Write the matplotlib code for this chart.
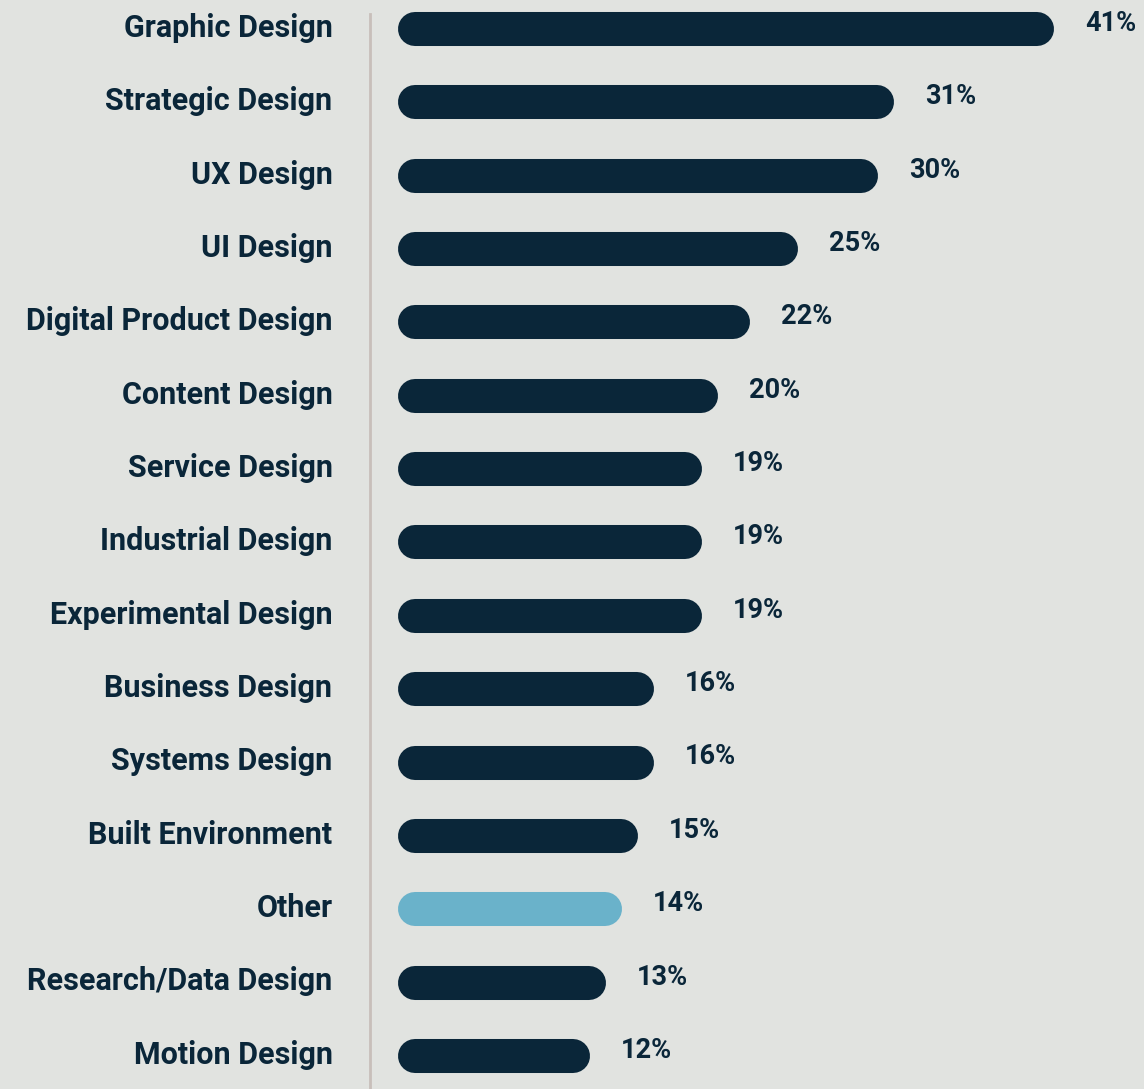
import matplotlib
matplotlib.use("Agg")
import matplotlib.pyplot as plt
from matplotlib.transforms import ScaledTranslation

categories = ["Graphic Design", "Strategic Design", "UX Design", "UI Design",
              "Digital Product Design", "Content Design", "Service Design",
              "Industrial Design", "Experimental Design", "Business Design",
              "Systems Design", "Built Environment", "Other",
              "Research/Data Design", "Motion Design"]
values = [41, 31, 30, 25, 22, 20, 19, 19, 19, 16, 16, 15, 14, 13, 12]
highlight = ["Other"]

BG = "#E1E3E0"
NAVY = "#0A2639"
LIGHT = "#6AB2CA"
SPINE = "#C8BFBA"

W, H, DPI = 11.44, 10.89, 100
fig = plt.figure(figsize=(W, H), dpi=DPI, facecolor=BG)
ax_left = 370 / 1144
ax_top = 14 / 1089
ax = fig.add_axes([ax_left, 0, 1 - ax_left, 1 - ax_top], facecolor=BG)

xmin, xmax = -1.75, 46.6
ax.set_xlim(xmin, xmax)
ax.set_ylim(14.45, -0.204)

lw = 24.5  # points
ax_w_px = (1 - ax_left) * W * DPI
r = (lw / 2 / 72 * DPI) * (xmax - xmin) / ax_w_px

ys = list(range(len(categories)))
for y, cat, v in zip(ys, categories, values):
    col = LIGHT if cat in highlight else NAVY
    ax.plot([r, v - r], [y, y], color=col, lw=lw, solid_capstyle="round",
            clip_on=False)
    ax.annotate(f"{v}%", xy=(v, y), xytext=(22, 4), textcoords="offset points",
                ha="left", va="center", fontsize=19.5, fontweight="bold",
                color=NAVY, family="Roboto", annotation_clip=False)

ax.set_yticks(ys)
ax.set_yticklabels(categories, fontsize=22, fontweight="bold", color=NAVY,
                   family="Roboto")
ax.tick_params(axis="y", length=0, pad=27)
shift = ScaledTranslation(0, 3 / 72, fig.dpi_scale_trans)
for lab in ax.get_yticklabels():
    lab.set_transform(lab.get_transform() + shift)
ax.set_xticks([])
for s in ["top", "right", "bottom"]:
    ax.spines[s].set_visible(False)
ax.spines["left"].set_color(SPINE)
ax.spines["left"].set_linewidth(2)

fig.savefig("out.png", dpi=DPI, facecolor=BG)
